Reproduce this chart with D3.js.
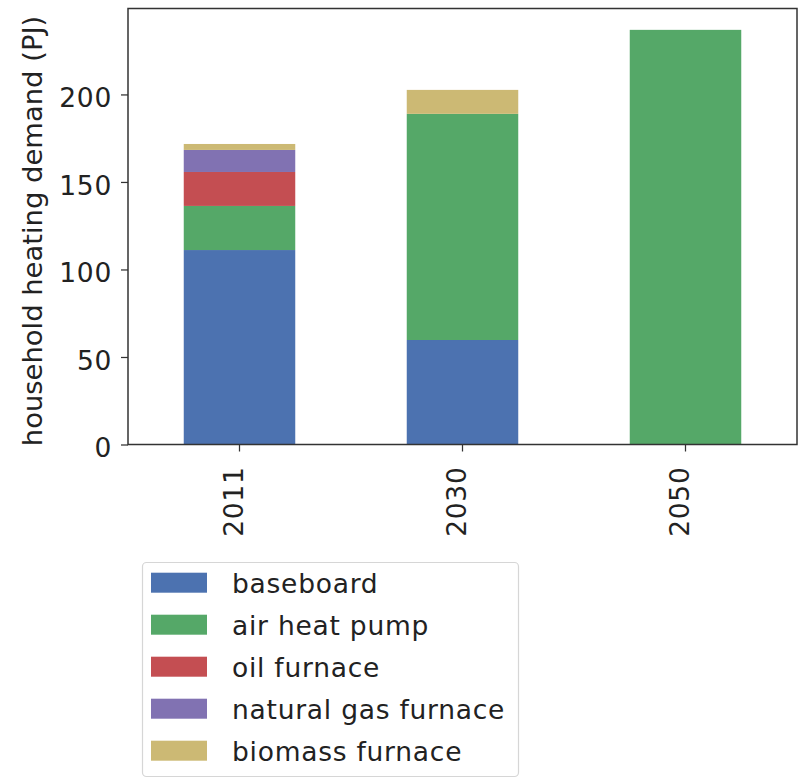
<!DOCTYPE html>
<html>
<head>
<meta charset="utf-8">
<script src="https://cdn.jsdelivr.net/npm/d3@7"></script>
<style>
  body { margin: 0; background: #fff; }
  text { font-family: "DejaVu Sans", sans-serif; fill: #222; }
</style>
</head>
<body>
<div id="chart"></div>
<script>
// categories on the x axis
var years = ["2011", "2030", "2050"];

// series values (PJ)
var baseboard = [111.1, 59.7, 0];
var airHeatPump = [25.2, 129.2, 236.9];
var oilFurnace = [19.4, 0, 0];
var gasFurnace = [12.6, 0, 0];
var biomassFurnace = [3.4, 13.7, 0];

var seriesNames = ["baseboard", "air heat pump", "oil furnace", "natural gas furnace", "biomass furnace"];
var seriesColors = ["#4C72B0", "#55A868", "#C44E52", "#8172B2", "#CCB974"];
var yTicks = [0, 50, 100, 150, 200];

var width = 801, height = 778;
var margin = {top: 8.5, right: 4, bottom: 333.5, left: 128};

var rows = years.map(function(y, i) {
  return {
    year: y,
    "baseboard": baseboard[i],
    "air heat pump": airHeatPump[i],
    "oil furnace": oilFurnace[i],
    "natural gas furnace": gasFurnace[i],
    "biomass furnace": biomassFurnace[i]
  };
});

var stacked = d3.stack().keys(seriesNames)(rows);

var svg = d3.select("#chart")
    .append("svg")
    .attr("width", width)
    .attr("height", height);

var x = d3.scaleBand()
    .domain(years)
    .range([margin.left, width - margin.right])
    .paddingInner(0.5)
    .paddingOuter(0.25);

var y = d3.scaleLinear()
    .domain([0, 249.1])
    .range([height - margin.bottom, margin.top]);

var color = d3.scaleOrdinal().domain(seriesNames).range(seriesColors);

// bars
svg.append("g")
  .selectAll("g")
  .data(stacked)
  .enter().append("g")
    .attr("fill", function(d) { return color(d.key); })
  .selectAll("rect")
  .data(function(d) { return d; })
  .enter().append("rect")
    .attr("x", function(d) { return x(d.data.year); })
    .attr("width", x.bandwidth())
    .attr("y", function(d) { return y(d[1]); })
    .attr("height", function(d) { return y(d[0]) - y(d[1]); });

// y axis
var yAxis = svg.append("g")
    .attr("transform", "translate(" + margin.left + ",0)")
    .call(d3.axisLeft(y).tickValues(yTicks).tickSize(7).tickPadding(9));

yAxis.selectAll("text").attr("dy", "0.46em");

// x axis
var xAxis = svg.append("g")
    .attr("transform", "translate(0," + (height - margin.bottom) + ")")
    .call(d3.axisBottom(x).tickSize(7).tickPadding(5));

xAxis.selectAll("text")
    .attr("transform", "rotate(-90)")
    .attr("x", -22)
    .attr("y", 0)
    .attr("dy", "0.15em")
    .style("text-anchor", "end");

svg.selectAll(".domain").remove();
svg.selectAll(".tick line").attr("stroke", "#333").attr("stroke-width", 1.25);
svg.selectAll(".tick text")
    .style("font-size", "26.5px")
    .style("letter-spacing", "0.7px")
    .style("font-family", "DejaVu Sans, sans-serif")
    .attr("fill", "#222");

// frame
svg.append("rect")
    .attr("x", margin.left)
    .attr("y", margin.top)
    .attr("width", width - margin.right - margin.left)
    .attr("height", height - margin.bottom - margin.top)
    .attr("fill", "none")
    .attr("stroke", "#333")
    .attr("stroke-width", 1.5);

// y label
svg.append("text")
    .attr("transform", "translate(42,231) rotate(-90)")
    .attr("text-anchor", "middle")
    .style("font-size", "27.4px")
    .text("household heating demand (PJ)");

// legend
var legend = svg.append("g");

legend.append("rect")
    .attr("x", 142.5)
    .attr("y", 562.5)
    .attr("width", 376)
    .attr("height", 214)
    .attr("rx", 4)
    .attr("fill", "#fff")
    .attr("stroke", "#d6d6d6")
    .attr("stroke-width", 1.2);

var item = legend.selectAll(".item")
    .data(seriesNames)
    .enter().append("g")
    .attr("class", "item")
    .attr("transform", function(d, i) { return "translate(0," + (582.7 + i * 42) + ")"; });

item.append("rect")
    .attr("x", 151)
    .attr("y", -10)
    .attr("width", 56)
    .attr("height", 20)
    .attr("fill", function(d) { return color(d); });

item.append("text")
    .attr("x", 232)
    .attr("y", 0)
    .attr("dy", "0.38em")
    .style("font-size", "26.5px")
    .style("letter-spacing", "0.75px")
    .text(function(d) { return d; });
</script>
</body>
</html>
